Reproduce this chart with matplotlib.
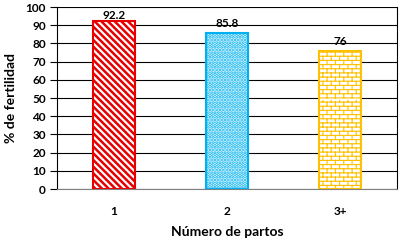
import warnings

import matplotlib
matplotlib.use('Agg')

import numpy as np  # noqa
from matplotlib import pyplot as plt  # noqa
from matplotlib import hatch as mhatch  # noqa
from matplotlib.path import Path  # noqa

warnings.filterwarnings('ignore')

categories = ['1', '2', '3+']
fertility = [92.2, 85.8, 76]
value_labels = ['92.2', '85.8', '76']


class BrickHatch(mhatch.HatchPatternBase):
    # brick wall pattern, selected with the letter 'b'
    def __init__(self, hatch, density):
        self.num_rows = int(hatch.count('b') * density * 4)
        self.num_cols = self.num_rows // 2
        self.num_vertices = self.num_rows * (2 + 2 * self.num_cols)

    def set_vertices_and_codes(self, vertices, codes):
        h = 1.0 / self.num_rows
        w = 1.0 / self.num_cols
        i = 0
        for r in range(self.num_rows):
            y0 = (r + 0.5) * h
            vertices[i] = (0.0, y0)
            vertices[i + 1] = (1.0, y0)
            codes[i] = Path.MOVETO
            codes[i + 1] = Path.LINETO
            i += 2
            off = 0.25 * w if r % 2 == 0 else 0.75 * w
            for c in range(self.num_cols):
                x = c * w + off
                vertices[i] = (x, y0)
                vertices[i + 1] = (x, y0 + h)
                codes[i] = Path.MOVETO
                codes[i + 1] = Path.LINETO
                i += 2


mhatch._hatch_types.append(BrickHatch)

plt.rcParams['font.family'] = ['Lato', 'DejaVu Sans']
plt.rcParams['font.weight'] = 'bold'

fig = plt.figure(figsize=(4, 2.43), dpi=100)
ax = fig.add_axes([57 / 400, 1 - 189 / 243, 340 / 400, 182 / 243])

colors = ['#E60000', '#00B0F0', '#FFC000']
hatches = ['\\' * 5, '.' * 5, 'b']
hatch_lw = [1.8, 1.8, 0.8]
x = np.arange(len(categories))
bars = ax.bar(x, fertility, width=0.37, color='white', zorder=3)
for bar, c, h, lw in zip(bars, colors, hatches, hatch_lw):
    bar.set_edgecolor(c)
    bar.set_hatch(h)
    bar.set_linewidth(1.5)
    try:
        bar.set_hatch_linewidth(lw)
    except AttributeError:
        pass

for xi, v, lab in zip(x, fertility, value_labels):
    ax.text(xi, min(v + 2.2, 92.5), lab, ha='center', va='bottom',
            fontsize=8.5, fontweight='bold', zorder=4)

ax.set_xlim(-0.5, 2.5)
ax.set_ylim(0, 100)
ax.set_yticks(range(0, 101, 10))
ax.set_xticks(x)
ax.set_xticklabels(categories)
ax.yaxis.grid(True, color='black', linewidth=0.8, zorder=0)
ax.set_axisbelow(True)
ax.tick_params(axis='y', length=5, width=0.8, labelsize=8.5, pad=3)
ax.tick_params(axis='x', length=0, labelsize=8.5, pad=12)
ax.spines['top'].set_visible(False)
ax.spines['left'].set_linewidth(0.8)
ax.spines['right'].set_linewidth(0.8)
ax.spines['bottom'].set_color('#808080')
ax.set_xlabel('Número de partos', fontsize=10, fontweight='bold',
              labelpad=7)
ax.set_ylabel('% de fertilidad', fontsize=10, fontweight='bold',
              labelpad=6)

fig.savefig('out.png', dpi=100)
